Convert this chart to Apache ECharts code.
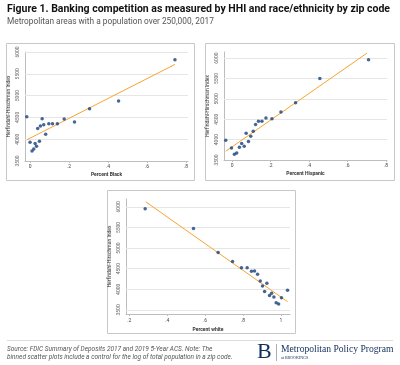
<!DOCTYPE html>
<html><head><meta charset="utf-8">
<script src="https://cdn.jsdelivr.net/npm/echarts@6/dist/echarts.min.js"></script>
<style>html,body{margin:0;padding:0;background:#fff}#c{width:400px;height:365px}</style>
</head><body><div id="c"></div>
<script>
// ---- data ----
const blackX = [-0.017,0.000,0.010,0.019,0.026,0.033,0.039,0.048,0.053,0.062,0.070,0.080,0.096,0.115,0.140,0.175,0.228,0.305,0.454,0.743];
const blackY = [4515,3931,3731,3777,3900,3838,4246,3954,4300,4469,4331,4115,4354,4354,4354,4462,4392,4700,4877,5823];
const blackFitX = [-0.017, 0.743];
const blackFitY = [3985, 5715];

const hispX = [-0.033,-0.003,0.012,0.024,0.038,0.050,0.063,0.073,0.085,0.097,0.110,0.122,0.137,0.155,0.176,0.207,0.254,0.330,0.456,0.709];
const hispY = [3984,3796,3641,3673,3812,3902,3837,4155,3951,4082,4204,4368,4449,4449,4531,4515,4678,4907,5500,5959];
const hispFitX = [-0.033, 0.701];
const hispFitY = [3714, 6122];

const whiteX = [0.284,0.539,0.669,0.745,0.792,0.822,0.845,0.861,0.877,0.891,0.903,0.914,0.926,0.940,0.951,0.963,0.975,0.988,1.003,1.035];
const whiteY = [5951,5476,4894,4671,4524,4524,4435,4443,4362,4203,4081,3943,4146,3846,3902,3813,3675,3642,3797,3976];
const whiteFitX = [0.287, 1.035];
const whiteFitY = [6122, 3699];

const yTicks = [3500,4000,4500,5000,5500,6000];
const xTicksBH = [0,0.2,0.4,0.6,0.8];
const xTicksW = [0.2,0.4,0.6,0.8,1];

const titleText = 'Figure 1. Banking competition as measured by HHI and race/ethnicity by zip code';
const subtitleText = 'Metropolitan areas with a population over 250,000, 2017';
const yName = 'Herfindahl-Hirschman Index';
const xNames = ['Percent Black','Percent Hispanic','Percent white'];
const sourceLines = ['Source: FDIC Summary of Deposits 2017 and 2019 5-Year ACS. Note: The',
  'binned scatter plots include a control for the log of total population in a zip code.'];

// ---- chart ----
const zip = (a,b)=>a.map((v,i)=>[v,b[i]]);
const FONT = 'Roboto';
const dotColor = '#173f7a';
const lineColor = '#f7a52f';
const fmtX = v => { const r = Math.round(v*10)/10; if (r===0) return '0'; if (r===1) return '1'; return '.'+Math.round(r*10); };

const grids = [
  {left:25, top:52, width:163, height:109},
  {left:224, top:52, width:163, height:108},
  {left:126, top:199, width:164, height:115}
];
const xRanges = [[-0.026,0.81],[-0.042,0.805],[0.183,1.048]];
const yRanges = [[3500,6000],[3500,6150],[3400,6190]];
const xTickSets = [xTicksBH, xTicksBH, xTicksW];
const scatterSets = [zip(blackX,blackY), zip(hispX,hispY), zip(whiteX,whiteY)];
const fitSets = [zip(blackFitX,blackFitY), zip(hispFitX,hispFitY), zip(whiteFitX,whiteFitY)];

const xAxis = [], yAxis = [], series = [];
for (let i=0;i<3;i++){
  xAxis.push({
    type:'value', gridIndex:i, min:xRanges[i][0], max:xRanges[i][1],
    name:xNames[i], nameLocation:'middle', nameGap:i===2?13:11,
    nameTextStyle:{fontFamily:FONT, fontSize:5, fontWeight:'bold', color:'#333'},
    axisLine:{show:true, onZero:false, lineStyle:{color:'#bdbdbd', width:1}},
    axisTick:{show:true, customValues:xTickSets[i], length:2, lineStyle:{color:'#bdbdbd'}},
    axisLabel:{customValues:xTickSets[i], formatter:fmtX, fontFamily:FONT, fontSize:5, color:'#444', margin:i===2?4:3},
    splitLine:{show:false}
  });
  yAxis.push({
    type:'value', gridIndex:i, min:yRanges[i][0], max:yRanges[i][1],
    name:yName, nameLocation:'middle', nameGap:14, nameRotate:90,
    nameTextStyle:{fontFamily:FONT, fontSize:5, color:'#333'},
    axisLine:{show:true, onZero:false, lineStyle:{color:'#bdbdbd', width:1}},
    axisTick:{show:false},
    axisLabel:{customValues:yTicks, formatter:v=>String(v), rotate:90, fontFamily:FONT, fontSize:5, color:'#666', margin:5},
    splitLine:{show:false}
  });
  series.push({
    type:'line', xAxisIndex:i, yAxisIndex:i, data:fitSets[i], symbol:'none',
    lineStyle:{color:lineColor, width:1}, silent:true, z:2,
    markLine:{silent:true, symbol:'none', label:{show:false},
      lineStyle:{color:'#e6e6e6', width:1, type:'solid'},
      data: yTicks.filter(t=>t>yRanges[i][0]).map(t=>({yAxis:t})), z:1}
  });
  series.push({
    type:'scatter', xAxisIndex:i, yAxisIndex:i, data:scatterSets[i],
    symbol:'circle', symbolSize:3.5, itemStyle:{color:dotColor}, z:3
  });
}

const chart = echarts.init(document.getElementById('c'), null, {renderer:'canvas'});
chart.setOption({
  animation:false,
  backgroundColor:'#fff',
  grid:grids.map(g=>Object.assign({containLabel:false}, g)),
  xAxis, yAxis, series,
  graphic:[
    {type:'text', left:7, top:3.5, style:{text:titleText, font:'bold 10.5px Roboto', fill:'#111'}},
    {type:'text', left:7, top:18, style:{text:subtitleText, font:'8.3px Roboto', fill:'#555'}},
    {type:'rect', shape:{x:6.5, y:43.5, width:188, height:137}, style:{fill:'none', stroke:'#c8c8c8', lineWidth:1}, z:-1},
    {type:'rect', shape:{x:205.5, y:43.5, width:189, height:137}, style:{fill:'none', stroke:'#c8c8c8', lineWidth:1}, z:-1},
    {type:'rect', shape:{x:107.5, y:190.5, width:188, height:143}, style:{fill:'none', stroke:'#c8c8c8', lineWidth:1}, z:-1},
    {type:'line', shape:{x1:7, y1:340.5, x2:393, y2:340.5}, style:{stroke:'#dcdcdc', lineWidth:1}},
    {type:'text', left:7, top:345.5, style:{text:sourceLines[0], font:'italic 6.5px Roboto', fill:'#555'}},
    {type:'text', left:7, top:353.5, style:{text:sourceLines[1], font:'italic 6.5px Roboto', fill:'#555'}},
    {type:'text', left:257, top:341, style:{text:'B', font:'22px "Liberation Serif"', fill:'#0f2e5a'}},
    {type:'line', shape:{x1:276.5, y1:344, x2:276.5, y2:361}, style:{stroke:'#999', lineWidth:0.8}},
    {type:'text', left:281, top:344.5, style:{text:'Metropolitan Policy Program', font:'9.6px "Liberation Serif"', fill:'#0f2e5a'}},
    {type:'text', left:281, top:355.5, style:{text:'at BROOKINGS', font:'4px "Liberation Serif"', fill:'#0f2e5a'}}
  ]
});
</script></body></html>
